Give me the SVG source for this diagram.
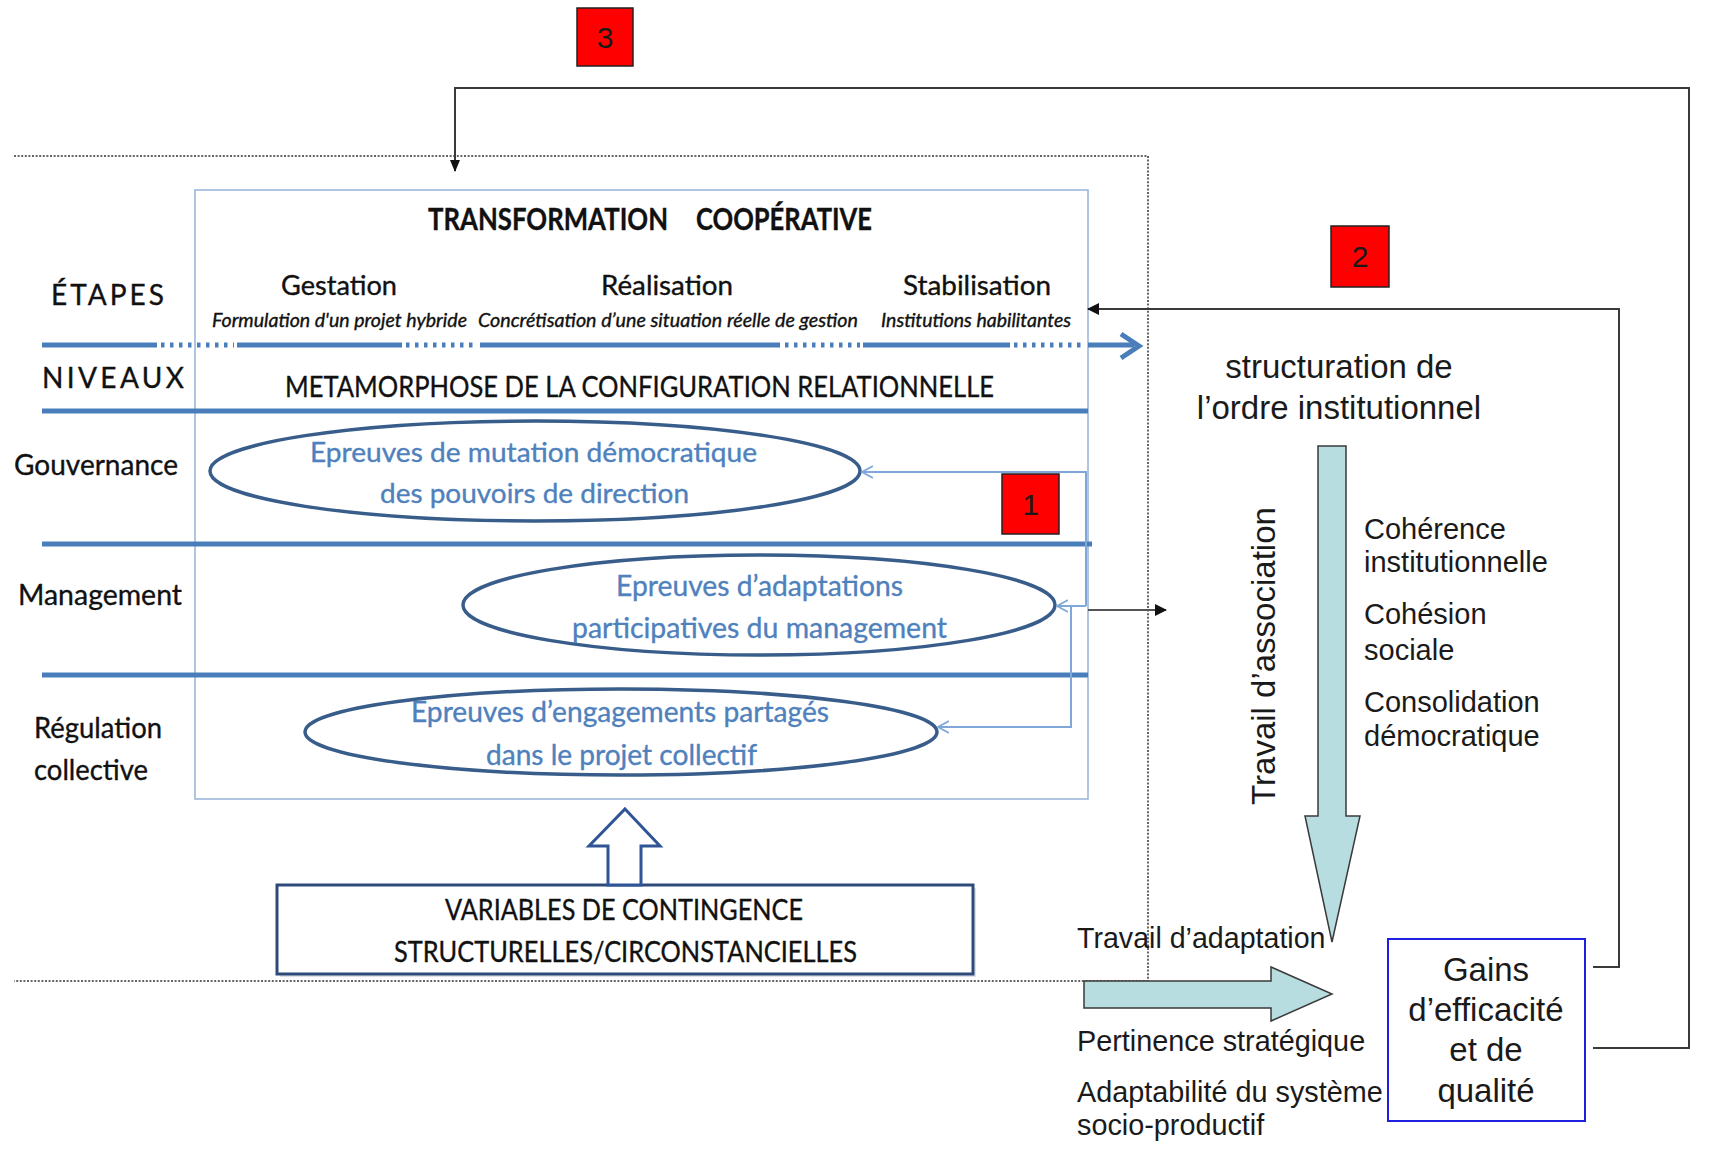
<svg xmlns="http://www.w3.org/2000/svg" width="1735" height="1149" viewBox="0 0 1735 1149">
<style>
.cal{font-family:Lato,"Open Sans","Liberation Sans",sans-serif;fill:#111;stroke:#111;stroke-width:0.35}
.ari{font-family:"Liberation Sans",Arial,sans-serif;fill:#1a1a1a}
.blue{fill:#4F81BD;stroke:#4F81BD}
.band{stroke:#4A7EBB;stroke-width:5;fill:none}
.dots{stroke:#4A7EBB;stroke-width:5;fill:none;stroke-dasharray:3.5 5.5}
.thin{stroke:#7FA7D9;stroke-width:2;fill:none}
.frame{stroke:#333;stroke-width:1.5;fill:none;stroke-dasharray:2 1.6}
.conn{stroke:#3a3a3a;stroke-width:2;fill:none}
.ell{fill:#fff;stroke:#385D8A;stroke-width:3.5}
.red{fill:#FF0000;stroke:#222;stroke-width:1.5}
.teal{fill:#B7DDE0;stroke:#3a3a3a;stroke-width:1.5}
</style>
<defs>
<marker id="ah" viewBox="0 0 12 12" refX="11" refY="6" markerWidth="12" markerHeight="12" markerUnits="userSpaceOnUse" orient="auto"><path d="M0,0 L12,6 L0,12 z" fill="#111"/></marker>
<marker id="ahn" viewBox="0 0 12 10" refX="11" refY="5" markerWidth="12" markerHeight="10" markerUnits="userSpaceOnUse" orient="auto"><path d="M0,0 L12,5 L0,10 z" fill="#111"/></marker>
<marker id="chev" viewBox="0 0 12 14" refX="11" refY="7" markerWidth="12" markerHeight="14" markerUnits="userSpaceOnUse" orient="auto"><path d="M0,1 L11,7 L0,13" fill="none" stroke="#7FA7D9" stroke-width="1.8"/></marker>
</defs>

<!-- dotted frame -->
<g id="frame">
<path class="frame" d="M14,156 H1148 V981 H14"/>
</g>

<!-- main box -->
<g id="main-box">
<rect x="195" y="190" width="893" height="609" fill="#fff" stroke="#95B3D7" stroke-width="1.5"/>
<text class="cal" x="428" y="230" font-size="31" font-weight="bold" textLength="240" lengthAdjust="spacingAndGlyphs">TRANSFORMATION</text>
<text class="cal" x="696" y="230" font-size="31" font-weight="bold" textLength="176" lengthAdjust="spacingAndGlyphs">COOPÉRATIVE</text>
</g>

<g id="etapes">
<text class="cal" x="51" y="305" font-size="28" textLength="113" lengthAdjust="spacing">ÉTAPES</text>
<text class="cal" x="281" y="295" font-size="26" textLength="116" lengthAdjust="spacingAndGlyphs">Gestation</text>
<text class="cal" x="601" y="295" font-size="26" textLength="132" lengthAdjust="spacingAndGlyphs">Réalisation</text>
<text class="cal" x="903" y="295" font-size="26" textLength="148" lengthAdjust="spacingAndGlyphs">Stabilisation</text>
<text class="cal" x="212" y="327" font-size="18.5" font-style="italic" stroke-width="0.2" textLength="255" lengthAdjust="spacingAndGlyphs">Formulation d'un projet hybride</text>
<text class="cal" x="478" y="327" font-size="18.5" font-style="italic" stroke-width="0.2" textLength="380" lengthAdjust="spacingAndGlyphs">Concrétisation d’une situation réelle de gestion</text>
<text class="cal" x="881" y="327" font-size="18.5" font-style="italic" stroke-width="0.2" textLength="190" lengthAdjust="spacingAndGlyphs">Institutions habilitantes</text>
</g>

<g id="timeline">
<path class="band" d="M42,345 H157 M237,345 H402 M480,345 H780 M863,345 H1010 M1088,345 H1134"/>
<path class="dots" d="M161,345 H234 M406,345 H477 M785,345 H860 M1014,345 H1085"/>
<path d="M1121,334 L1139,346 L1121,358" fill="none" stroke="#4A7EBB" stroke-width="5"/>
</g>

<g id="niveaux">
<text class="cal" x="42" y="388" font-size="28" textLength="142" lengthAdjust="spacing">NIVEAUX</text>
<text class="cal" x="285" y="397" font-size="29" textLength="709" lengthAdjust="spacingAndGlyphs">METAMORPHOSE DE LA CONFIGURATION RELATIONNELLE</text>
</g>

<g id="bands">
<path class="band" d="M42,411 H1088 M42,544 H1092 M42,675 H1088"/>
</g>

<g id="labels">
<text class="cal" x="14" y="475" font-size="29" textLength="164" lengthAdjust="spacingAndGlyphs">Gouvernance</text>
<text class="cal" x="18" y="605" font-size="29" textLength="164" lengthAdjust="spacingAndGlyphs">Management</text>
<text class="cal" x="34" y="738" font-size="29" textLength="128" lengthAdjust="spacingAndGlyphs">Régulation</text>
<text class="cal" x="34" y="780" font-size="29" textLength="114" lengthAdjust="spacingAndGlyphs">collective</text>
</g>

<g id="ellipse-gouvernance">
<ellipse class="ell" cx="535" cy="471" rx="325" ry="50"/>
<text class="cal blue" x="310" y="462" font-size="27" textLength="447" lengthAdjust="spacingAndGlyphs">Epreuves de mutation démocratique</text>
<text class="cal blue" x="380" y="503" font-size="27" textLength="309" lengthAdjust="spacingAndGlyphs">des pouvoirs de direction</text>
</g>

<g id="ellipse-management">
<ellipse class="ell" cx="759" cy="605" rx="296" ry="50"/>
<text class="cal blue" x="616" y="596" font-size="29" textLength="287" lengthAdjust="spacingAndGlyphs">Epreuves d’adaptations</text>
<text class="cal blue" x="572" y="638" font-size="29" textLength="375" lengthAdjust="spacingAndGlyphs">participatives du management</text>
</g>

<g id="ellipse-regulation">
<ellipse class="ell" cx="621" cy="732" rx="316" ry="43"/>
<text class="cal blue" x="411" y="722" font-size="28" textLength="418" lengthAdjust="spacingAndGlyphs">Epreuves d’engagements partagés</text>
<text class="cal blue" x="486" y="765" font-size="28" textLength="271" lengthAdjust="spacingAndGlyphs">dans le projet collectif</text>
</g>

<g id="variables">
<rect x="280" y="888" width="696" height="89" fill="#c8cfd9" opacity="0.6"/>
<rect x="277" y="885" width="696" height="89" fill="#fff" stroke="#2E4A7B" stroke-width="3"/>
<text class="cal" x="445" y="920" font-size="29" textLength="358" lengthAdjust="spacingAndGlyphs">VARIABLES DE CONTINGENCE</text>
<text class="cal" x="394" y="962" font-size="29" textLength="463" lengthAdjust="spacingAndGlyphs">STRUCTURELLES/CIRCONSTANCIELLES</text>
</g>

<g id="up-arrow">
<polygon points="625,809 660,846 641,846 641,885 608,885 608,846 589,846" fill="#fff" stroke="#2F5597" stroke-width="3" stroke-linejoin="miter"/>
</g>

<g id="box-1">
<rect class="red" x="1002" y="474" width="57" height="60"/>
<text class="ari" x="1030.5" y="515" font-size="30" text-anchor="middle" fill="#111">1</text>
</g>
<g id="box-2">
<rect class="red" x="1331" y="226" width="58" height="61"/>
<text class="ari" x="1360" y="267" font-size="30" text-anchor="middle">2</text>
</g>
<g id="box-3">
<rect class="red" x="577" y="8" width="56" height="58"/>
<text class="ari" x="605" y="48" font-size="30" text-anchor="middle">3</text>
</g>

<g id="structuration">
<text class="ari" x="1339" y="378" font-size="33" text-anchor="middle">structuration de</text>
<text class="ari" x="1339" y="419" font-size="33" text-anchor="middle">l’ordre institutionnel</text>
</g>

<g id="association-arrow">
<polygon class="teal" points="1318,446 1346,446 1346,816 1360,816 1332,942 1305,816 1318,816"/>
<text class="ari" transform="translate(1275,656) rotate(-90)" font-size="33" text-anchor="middle">Travail d’association</text>
</g>

<g id="institutional-list">
<text class="ari" x="1364" y="539" font-size="29">Cohérence</text>
<text class="ari" x="1364" y="572" font-size="29">institutionnelle</text>
<text class="ari" x="1364" y="624" font-size="29">Cohésion</text>
<text class="ari" x="1364" y="660" font-size="29">sociale</text>
<text class="ari" x="1364" y="712" font-size="29">Consolidation</text>
<text class="ari" x="1364" y="746" font-size="29">démocratique</text>
</g>

<g id="adaptation-arrow">
<polygon class="teal" points="1084,981 1271,981 1271,967 1332,994 1271,1021 1271,1008 1084,1008"/>
<text class="ari" x="1077" y="948" font-size="28.6">Travail d’adaptation</text>
<text class="ari" x="1077" y="1051" font-size="28.8">Pertinence stratégique</text>
<text class="ari" x="1077" y="1102" font-size="28.8">Adaptabilité du système</text>
<text class="ari" x="1077" y="1135" font-size="28.8">socio-productif</text>
</g>

<g id="gains">
<rect x="1388" y="939" width="197" height="182" fill="#fff" stroke="#1F1FE0" stroke-width="2"/>
<text class="ari" x="1486" y="981" font-size="33" text-anchor="middle">Gains</text>
<text class="ari" x="1486" y="1021" font-size="33" text-anchor="middle">d’efficacité</text>
<text class="ari" x="1486" y="1061" font-size="33" text-anchor="middle">et de</text>
<text class="ari" x="1486" y="1102" font-size="33" text-anchor="middle">qualité</text>
</g>

<g id="connectors">
<path class="thin" d="M1086,606 V472 H862" marker-end="url(#chev)"/>
<path class="thin" d="M1086,606 H1057" marker-end="url(#chev)"/>
<path class="thin" d="M1071,606 V727 H938" marker-end="url(#chev)"/>
<path d="M1088,610 H1166" stroke="#555" stroke-width="2.2" fill="none" marker-end="url(#ah)"/>
<path class="conn" d="M1593,967 H1619 V309 H1088" marker-end="url(#ah)"/>
<path class="conn" d="M1593,1048 H1689 V88 H455 V171" marker-end="url(#ahn)"/>
</g>
</svg>
